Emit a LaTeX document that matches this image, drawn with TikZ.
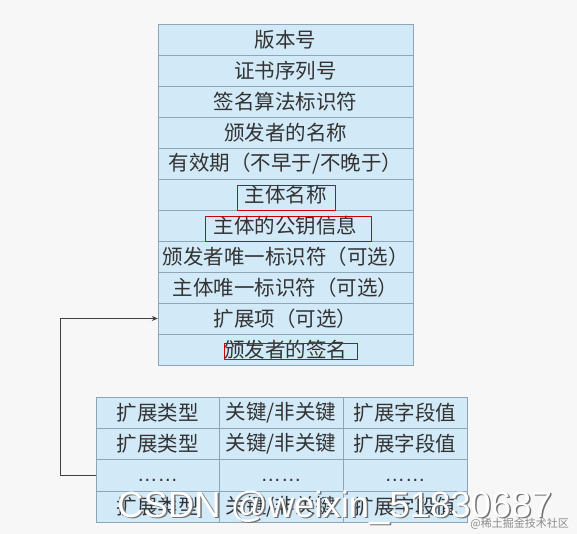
\documentclass[tikz,border=0pt]{standalone}
\usepackage{fontspec}
\setmainfont{Noto Sans CJK SC}
\newfontfamily\latinfont{Liberation Sans}
\usetikzlibrary{arrows.meta,calc}
\definecolor{cellblue}{HTML}{D2E9F7}
\definecolor{cellline}{HTML}{8FA6B8}
\definecolor{pagegray}{HTML}{F7F7F7}
\definecolor{inkgray}{HTML}{333333}

\begin{document}
\begin{tikzpicture}[x=1pt,y=-1pt,
    cell/.style={draw=cellline,fill=cellblue,inner sep=0pt,text=inkgray,
      font=\fontsize{20.5}{20.5}\selectfont},
    redbox/.style={draw=red!80!black,inner sep=0pt},
    link/.style={draw=black!75,thick,-{Stealth[length=6pt,width=5pt]}}]
  \fill[pagegray] (0,0) rectangle (577,534);
  \useasboundingbox (0,0) rectangle (577,534);

  % certificate fields
  \foreach \t [count=\i] in {版本号,证书序列号,签名算法标识符,颁发者的名称,
      有效期（不早于/不晚于）,主体名称,主体的公钥信息,颁发者唯一标识符（可选）,
      主体唯一标识符（可选）,扩展项（可选）,颁发者的签名}{
    \node[cell,minimum width=255pt,minimum height=31pt] (a\i) at (285.5,{24+31*(\i-0.5)}) {\t};
  }
  \node[redbox,minimum width=98pt,minimum height=25pt] (m6) at ($(a6)+(0.5,3)$) {};
  \node[redbox,minimum width=166pt,minimum height=25pt] (m7) at ($(a7)+(2.5,3)$) {};
  \node[redbox,minimum width=133pt,minimum height=16pt] (m11) at ($(a11)+(5,1.5)$) {};

  % extension fields
  \foreach \r in {1,2,3,4}{
    \node[cell,minimum width=123pt,minimum height=31.25pt] (b\r1) at (157.5,{397+31.25*(\r-0.5)})
      {\ifnum\r=3 \raisebox{-6pt}[0pt][0pt]{\latinfont ……}\else 扩展类型\fi};
    \node[cell,minimum width=124pt,minimum height=31.25pt] (b\r2) at (281,{397+31.25*(\r-0.5)})
      {\ifnum\r=3 \raisebox{-6pt}[0pt][0pt]{\latinfont ……}\else 关键/非关键\fi};
    \node[cell,minimum width=124pt,minimum height=31.25pt] (b\r3) at (405,{397+31.25*(\r-0.5)})
      {\ifnum\r=3 \raisebox{-6pt}[0pt][0pt]{\latinfont ……}\else 扩展字段值\fi};
  }

  \draw[link] (b31.west) -- ++(-35,0) |- (a10.west);

  % watermarks
  \node[anchor=base west,inner sep=0pt,text=black!55,font=\latinfont\fontsize{36.5}{36.5}\selectfont]
    (wm0) at (118.5,518.5) {CSDN @weixin\_51830687};
  \node[anchor=base west,inner sep=0pt,text=white,font=\latinfont\fontsize{36.5}{36.5}\selectfont]
    (wm1) at (117,517) {CSDN @weixin\_51830687};
  \node[anchor=base east,inner sep=0pt,text=black!45,font=\fontsize{11}{11}\selectfont]
    (wm2) at (569,527) {@稀土掘金技术社区};
\end{tikzpicture}
\end{document}
